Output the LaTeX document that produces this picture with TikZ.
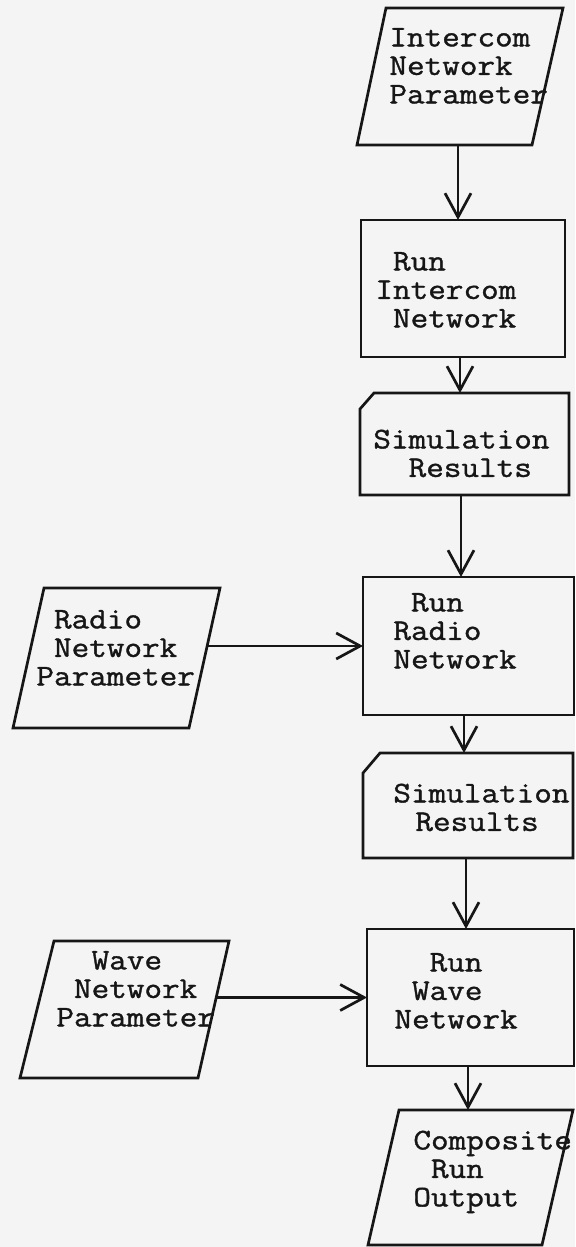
\documentclass[tikz,border=0pt]{standalone}
\usepackage{fontspec}
\setmonofont[FakeStretch=1.14,FakeBold=1.2]{Latin Modern Mono}
\usetikzlibrary{arrows.meta,calc,fit}
\definecolor{paper}{RGB}{244,244,244}
\definecolor{ink}{RGB}{22,22,22}
\newcommand\chsp{\hphantom{x}}
\newcommand\fl{\rule{0pt}{12pt}}
\begin{document}
\begin{tikzpicture}[x=0.5pt,y=-0.5pt,
  shapeline/.style={draw=ink,line width=1.35pt,line join=miter},
  frame/.style={inner sep=0pt,outer sep=0pt},
  txt/.style={anchor=north west,inner sep=0pt,align=left,text=ink,font=\ttfamily\fontsize{15pt}{14.25pt}\selectfont},
  arr/.style={draw=ink,line width=1.35pt,-{Straight Barb[length=12pt,width=13pt,line width=1.35pt]}}]
\fill[paper] (0,0) rectangle (575,1247);
\useasboundingbox (0,0) rectangle (575,1247);

% Intercom Network Parameter
\node[frame,fit={(357,8) (563,145)}] (p1) {};
\draw[shapeline] ($(p1.north west)+(29,0)$) -- (p1.north east) -- ($(p1.south east)+(-31,0)$) -- (p1.south west) -- cycle;
\node[txt] (p1t) at (389,22) {\fl Intercom\\Network\\Parameter};

% Run Intercom Network
\node[frame,shapeline,fit={(361,220) (565,357)}] (r1) {};
\node[txt] (r1t) at (375,246) {\fl\chsp Run\\Intercom\\\chsp Network};

% Simulation Results 1
\node[frame,fit={(360,393) (569,495)}] (s1) {};
\draw[shapeline] ($(s1.north west)+(14,0)$) -- (s1.north east) -- (s1.south east) -- (s1.south west) -- ($(s1.north west)+(0,16)$) -- cycle;
\node[txt] (s1t) at (373,424) {\fl Simulation\\\chsp\chsp Results};

% Radio Network Parameter
\node[frame,fit={(13,588) (220,728)}] (p2) {};
\draw[shapeline] ($(p2.north west)+(31,0)$) -- (p2.north east) -- ($(p2.south east)+(-31,0)$) -- (p2.south west) -- cycle;
\node[txt] (p2t) at (36,604) {\fl\chsp Radio\\\chsp Network\\Parameter};

% Run Radio Network
\node[frame,shapeline,fit={(363,577) (574,715)}] (r2) {};
\node[txt] (r2t) at (393,587) {\fl\chsp Run\\Radio\\Network};

% Simulation Results 2
\node[frame,fit={(363,753) (573,858)}] (s2) {};
\draw[shapeline] ($(s2.north west)+(17,0)$) -- (s2.north east) -- (s2.south east) -- (s2.south west) -- ($(s2.north west)+(0,20)$) -- cycle;
\node[txt] (s2t) at (393,778) {\fl Simulation\\\hspace*{11pt}Results};

% Run Wave Network
\node[frame,shapeline,fit={(367,929) (574,1066)}] (r3) {};
\node[txt] (r3t) at (394,947) {\fl\chsp\chsp Run\\\chsp Wave\\Network};

% Wave Network Parameter
\node[frame,fit={(20,941) (229,1078)}] (p3) {};
\draw[shapeline] ($(p3.north west)+(34,0)$) -- (p3.north east) -- ($(p3.south east)+(-31,0)$) -- (p3.south west) -- cycle;
\node[txt] (p3t) at (56,945) {\fl\chsp\chsp Wave\\\chsp Network\\Parameter};

% Composite Run Output
\node[frame,fit={(368,1110) (573,1245)}] (p4) {};
\draw[shapeline] ($(p4.north west)+(31,0)$) -- (p4.north east) -- ($(p4.south east)+(-31,0)$) -- (p4.south west) -- cycle;
\node[txt] (p4t) at (413,1125) {\fl Composite\\\chsp Run\\Output};

% connectors
\draw[arr] ([xshift=-1pt]p1.south) -- ([xshift=-1pt]p1.south |- r1.north);
\draw[arr] ([xshift=-1.5pt]r1.south) -- ([xshift=-1.5pt]r1.south |- s1.north);
\draw[arr] ([xshift=-1.75pt]s1.south) -- ([xshift=-1.75pt]s1.south |- r2.north);
\draw[arr] ([xshift=-2.25pt]r2.south) -- ([xshift=-2.25pt]r2.south |- s2.north);
\draw[arr] ([xshift=-1pt]s2.south) -- ([xshift=-1pt]s2.south |- r3.north);
\draw[arr] ([xshift=-1.25pt]r3.south) -- ([xshift=-1.25pt]r3.south |- p4.north);
\draw[arr] ($(r2.west -| p2.east)+(-13,0)$) -- (r2.west);
\draw[arr] ($(r3.west -| p3.east)+(-13,0)$) -- (r3.west);
\end{tikzpicture}
\end{document}
